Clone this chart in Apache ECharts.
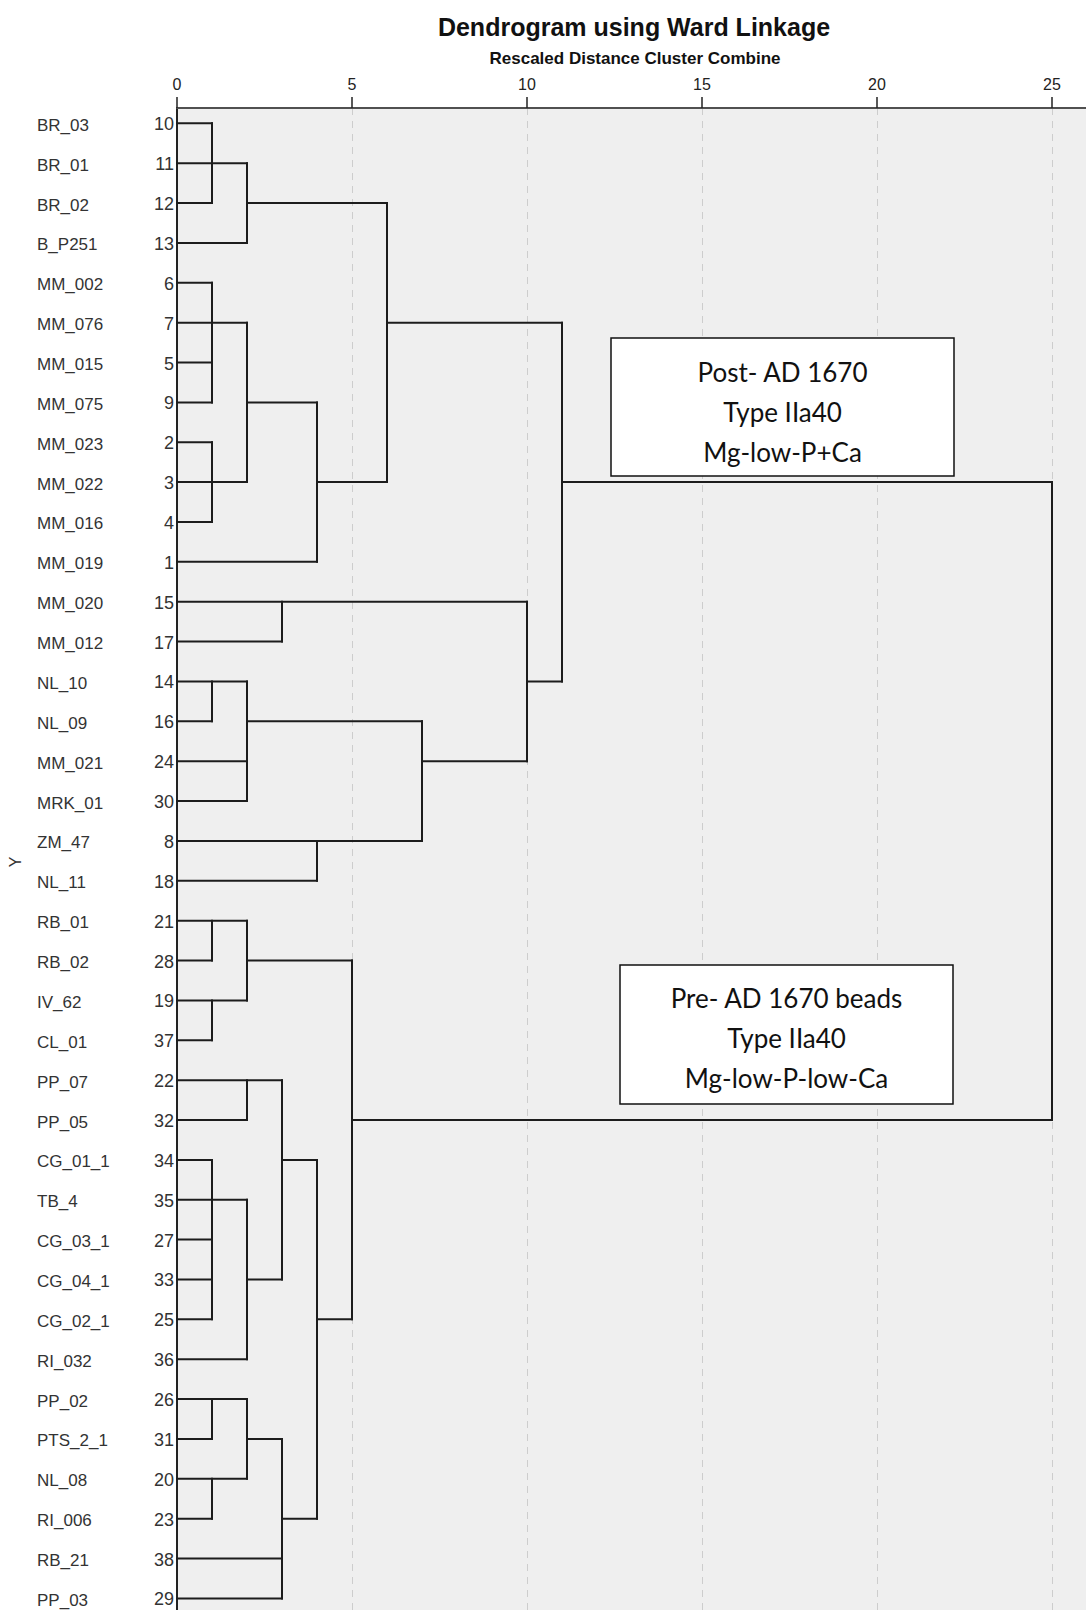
<!DOCTYPE html>
<html>
<head>
<meta charset="utf-8">
<title>Dendrogram using Ward Linkage</title>
<script src="https://cdn.jsdelivr.net/npm/echarts@6/dist/echarts.min.js"></script>
<style>
  html, body { margin: 0; padding: 0; background: #ffffff; }
  #chart { width: 1086px; height: 1610px; }
</style>
</head>
<body>
<div id="chart"></div>
<script>
// ---------- DATA ----------
const sampleNames = ['BR_03','BR_01','BR_02','B_P251','MM_002','MM_076','MM_015','MM_075','MM_023','MM_022','MM_016','MM_019','MM_020','MM_012','NL_10','NL_09','MM_021','MRK_01','ZM_47','NL_11','RB_01','RB_02','IV_62','CL_01','PP_07','PP_05','CG_01_1','TB_4','CG_03_1','CG_04_1','CG_02_1','RI_032','PP_02','PTS_2_1','NL_08','RI_006','RB_21','PP_03'];
const caseNumbers = [10,11,12,13,6,7,5,9,2,3,4,1,15,17,14,16,24,30,8,18,21,28,19,37,22,32,34,35,27,33,25,36,26,31,20,23,38,29];
const distanceTicks = [0, 5, 10, 15, 20, 25];

// horizontal links: [row, fromDistance, toDistance]
const horizontalLinks = [
  [1,0,1],[2,0,2],[3,0,1],[3,2,6],[4,0,2],
  [5,0,1],[6,0,2],[6,6,11],[7,0,1],[8,0,1],[8,2,4],[9,0,1],[10,0,2],[10,4,6],[10,11,25],[11,0,1],[12,0,4],
  [13,0,10],[14,0,3],[15,0,2],[15,10,11],[16,0,1],[16,2,7],[17,0,2],[17,7,10],[18,0,2],[19,0,7],[20,0,4],
  [21,0,2],[22,0,1],[22,2,5],[23,0,2],[24,0,1],[25,0,3],[26,0,2],[26,5,25],[27,0,1],[27,3,4],[28,0,2],
  [29,0,1],[30,0,1],[30,2,3],[31,0,1],[31,4,5],[32,0,2],[33,0,2],[34,0,1],[34,2,3],[35,0,2],[36,0,1],
  [36,3,4],[37,0,3],[38,0,3]
];
// vertical joins: [distance, fromRow, toRow]
const verticalJoins = [
  [1,1,3],[2,2,4],[6,3,10],[1,5,8],[2,6,10],[1,9,11],[4,8,12],[11,6,15],[25,10,26],
  [3,13,14],[10,13,17],[1,15,16],[2,15,18],[7,16,19],[4,19,20],
  [1,21,22],[2,21,23],[1,23,24],[5,22,31],[2,25,26],[3,25,30],[1,27,31],[2,28,32],[4,27,36],
  [1,33,34],[2,33,35],[1,35,36],[3,34,38]
];
const postLabel = ['Post- AD 1670', 'Type IIa40', 'Mg-low-P+Ca'];
const preLabel = ['Pre- AD 1670 beads', 'Type IIa40', 'Mg-low-P-low-Ca'];

// ---------- BUILD ----------
const segments = [];
horizontalLinks.forEach(h => segments.push([h[1], h[0], h[2], h[0]]));
verticalJoins.forEach(v => segments.push([v[0], v[1], v[0], v[2]]));
const labelData = sampleNames.map((n, i) => [0, i + 1, i]);

const chart = echarts.init(document.getElementById('chart'), null, { renderer: 'svg' });
const option = {
  backgroundColor: '#ffffff',
  animation: false,
  grid: {
    left: 177, top: 108, right: -1, bottom: 0,
    show: true, backgroundColor: '#efefef', borderWidth: 0,
    containLabel: false, outerBoundsMode: 'none'
  },
  xAxis: {
    type: 'value', position: 'top', min: 0, max: 26, interval: 5,
    axisLine: { show: true, lineStyle: { color: '#505050', width: 2 } },
    axisTick: { show: true, inside: false, length: 11, lineStyle: { color: '#222', width: 1.5 } },
    axisLabel: {
      margin: 16, color: '#222', fontSize: 16, showMaxLabel: false,
      fontFamily: '"Liberation Sans Narrow", "Liberation Sans", Arial, sans-serif',
      formatter: v => distanceTicks.indexOf(v) >= 0 ? String(v) : ''
    },
    splitLine: { show: true, lineStyle: { color: '#cdcdcd', width: 1, type: [7, 6] } }
  },
  yAxis: {
    type: 'value', inverse: true, min: 0.616, max: 38.29,
    axisLine: { show: true, lineStyle: { color: '#222', width: 2 } },
    axisTick: { show: false }, axisLabel: { show: false }, splitLine: { show: false }
  },
  series: [
    {
      type: 'custom', clip: false,
      data: segments,
      encode: { x: [0, 2], y: [1, 3] },
      renderItem: (params, api) => {
        const p0 = api.coord([api.value(0), api.value(1)]);
        const p1 = api.coord([api.value(2), api.value(3)]);
        return {
          type: 'line',
          shape: { x1: p0[0], y1: p0[1], x2: p1[0], y2: p1[1] },
          style: { stroke: '#1c1c1c', lineWidth: 2, lineCap: 'square' }
        };
      }
    },
    {
      type: 'custom', clip: false,
      data: labelData,
      encode: { x: 0, y: 1 },
      renderItem: (params, api) => {
        const p = api.coord([api.value(0), api.value(1)]);
        const i = api.value(2);
        return {
          type: 'group',
          children: [
            { type: 'text', x: p[0] - 140, y: p[1] + 2,
              style: { text: sampleNames[i], fill: '#333', fontSize: 17,
                fontFamily: '"Liberation Sans", Arial, sans-serif', align: 'left', verticalAlign: 'middle' } },
            { type: 'text', x: p[0] - 3, y: p[1] + 1,
              style: { text: String(caseNumbers[i]), fill: '#333', fontSize: 18,
                fontFamily: '"Liberation Sans", Arial, sans-serif', align: 'right', verticalAlign: 'middle' } }
          ]
        };
      }
    }
  ],
  graphic: [
    { type: 'text', x: 634, y: 27, z: 10,
      style: { text: 'Dendrogram using Ward Linkage', fill: '#111', fontSize: 25, fontWeight: 'bold',
        fontFamily: '"Liberation Sans", Arial, sans-serif', align: 'center', verticalAlign: 'middle' } },
    { type: 'text', x: 635, y: 58, z: 10,
      style: { text: 'Rescaled Distance Cluster Combine', fill: '#111', fontSize: 17, fontWeight: 'bold',
        fontFamily: '"Liberation Sans", Arial, sans-serif', align: 'center', verticalAlign: 'middle' } },
    { type: 'text', x: 15, y: 862, rotation: Math.PI / 2, z: 10,
      style: { text: 'Y', fill: '#333', fontSize: 16,
        fontFamily: '"Liberation Sans", Arial, sans-serif', align: 'center', verticalAlign: 'middle' } },
    { type: 'rect', shape: { x: 611, y: 338, width: 343, height: 138 }, z: 20,
      style: { fill: '#ffffff', stroke: '#111', lineWidth: 1.5 } },
    { type: 'text', x: 782.5, y: 412, z: 21,
      style: { text: postLabel.join('\n'), fill: '#111', fontSize: 26, lineHeight: 40,
        fontFamily: 'Lato, "Open Sans", sans-serif', align: 'center', verticalAlign: 'middle' } },
    { type: 'rect', shape: { x: 620, y: 965, width: 333, height: 139 }, z: 20,
      style: { fill: '#ffffff', stroke: '#111', lineWidth: 1.5 } },
    { type: 'text', x: 786.5, y: 1038, z: 21,
      style: { text: preLabel.join('\n'), fill: '#111', fontSize: 26, lineHeight: 40,
        fontFamily: 'Lato, "Open Sans", sans-serif', align: 'center', verticalAlign: 'middle' } }
  ]
};
chart.setOption(option);
</script>
</body>
</html>
